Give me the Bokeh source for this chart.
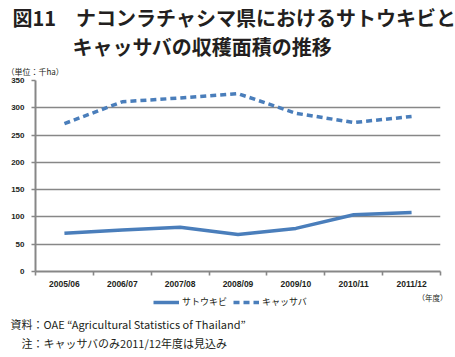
from bokeh.plotting import figure
from bokeh.layouts import column
from bokeh.models import (Range1d, FixedTicker, Title, Legend, LegendItem)
from bokeh.embed import file_html
from bokeh.resources import INLINE

years = ["2005/06", "2006/07", "2007/08", "2008/09", "2009/10", "2010/11", "2011/12"]
sugarcane = [70, 76, 81, 68, 79, 104, 108]
cassava = [271, 311, 318, 326, 290, 273, 284]
y_ticks = [0, 50, 100, 150, 200, 250, 300, 350]
series_names = ["サトウキビ", "キャッサバ"]

BLUE = "#4a7ebb"
GRAY = "#878787"
TXT = "#231f20"
JP = "Noto Sans CJK JP"
W = 455
LEFT, RIGHT = 35, 15
H_MAIN, H_FOOT, OVERLAP = 305, 65, 13

n = len(years)
xpos = [i + 0.5 for i in range(n)]          # category centres
bounds = list(range(n + 1))                  # category boundaries


def add_title(f, side, text, x, size, bold=False, standoff=0, align="left",
              valign="middle", line_height=1.2):
    off = x - LEFT if align == "left" else x
    f.add_layout(Title(text=text, align=align, offset=off, standoff=standoff,
                       vertical_align=valign, text_font=JP, text_font_size=size,
                       text_font_style="bold" if bold else "normal",
                       text_line_height=line_height, text_color=TXT), side)


# ---------------- main chart ----------------
p = figure(width=W, height=H_MAIN, output_backend="svg", toolbar_location=None,
           x_range=Range1d(0, n), y_range=Range1d(0, 350),
           min_border_left=LEFT, min_border_right=RIGHT, min_border_top=80,
           min_border_bottom=34)
p.outline_line_color = None
p.xgrid.grid_line_color = None
p.ygrid.grid_line_color = GRAY
p.ygrid.grid_line_width = 1.6
p.ygrid.ticker = FixedTicker(ticks=y_ticks)

ya = p.yaxis[0]
ya.ticker = FixedTicker(ticks=y_ticks)
ya.axis_line_color = GRAY
ya.axis_line_width = 2
ya.major_tick_line_color = GRAY
ya.major_tick_line_width = 1.6
ya.major_tick_in = 0
ya.major_tick_out = 4
ya.minor_tick_line_color = None
ya.major_label_text_font = "Liberation Sans"
ya.major_label_text_font_style = "bold"
ya.major_label_text_font_size = "8px"
ya.major_label_text_color = TXT
ya.major_label_standoff = 7

xa = p.xaxis[0]
xa.ticker = FixedTicker(ticks=xpos, minor_ticks=bounds)
xa.major_label_overrides = {x: y for x, y in zip(xpos, years)}
xa.axis_line_color = GRAY
xa.axis_line_width = 2
xa.major_tick_line_color = None
xa.major_tick_in = 0
xa.major_tick_out = 4
xa.minor_tick_line_color = GRAY
xa.minor_tick_line_width = 1.6
xa.minor_tick_in = 0
xa.minor_tick_out = 4
xa.major_label_text_font = "Liberation Sans"
xa.major_label_text_font_style = "bold"
xa.major_label_text_font_size = "8.5px"
xa.major_label_text_color = TXT
xa.major_label_standoff = 3

# titles above the chart (first added = nearest to the frame)
add_title(p, "above", "（単位：千ha）", 6, "8px", standoff=6)
add_title(p, "above",
          "図11　ナコンラチャシマ県におけるサトウキビと\n　　　キャッサバの収穫面積の推移",
          12, "20px", bold=True, standoff=0, line_height=1.0)
add_title(p, "below", "（年度）", -7, "7.5px", align="right", standoff=0,
          valign="top")

p.line(x=xpos, y=sugarcane, line_color=BLUE, line_width=3.5, line_join="round")
p.line(x=xpos, y=cassava, line_color=BLUE, line_width=3.5, line_dash="6 4",
       line_join="round")

# ---------------- footer: legend + notes (transparent, slightly overlapping) ----
foot = figure(width=W, height=H_FOOT, output_backend="svg", toolbar_location=None,
              x_range=Range1d(0, n), y_range=Range1d(-1, 0),
              x_axis_location=None, y_axis_location=None,
              min_border_left=LEFT, min_border_right=RIGHT, min_border_top=0,
              min_border_bottom=41, margin=(-OVERLAP, 0, 0, 0))
foot.outline_line_color = None
foot.background_fill_color = None
foot.border_fill_color = None
foot.xgrid.visible = False
foot.ygrid.visible = False
# same series, same styles (outside this panel's range, so only the legend shows)
s1 = foot.line(x=xpos, y=sugarcane, line_color=BLUE, line_width=3.5)
s2 = foot.line(x=xpos, y=cassava, line_color=BLUE, line_width=3.5, line_dash="6 4")
legend = Legend(items=[LegendItem(label=series_names[0], renderers=[s1]),
                       LegendItem(label=series_names[1], renderers=[s2])],
                location=(153 - LEFT, 2), orientation="horizontal",
                border_line_color=None, background_fill_alpha=0,
                label_text_font=JP, label_text_font_size="9px",
                label_text_color=TXT, glyph_width=26, glyph_height=10,
                label_height=10, spacing=6, padding=0, margin=0, label_standoff=3)
foot.add_layout(legend)
add_title(foot, "below",
          "資料：OAE “Agricultural Statistics of Thailand”\n　注：キャッサバのみ2011/12年度は見込み",
          10, "11px", standoff=10, valign="top", line_height=1.2)

layout = column(p, foot, spacing=0)
open("out.html", "w").write(file_html(layout, INLINE))
